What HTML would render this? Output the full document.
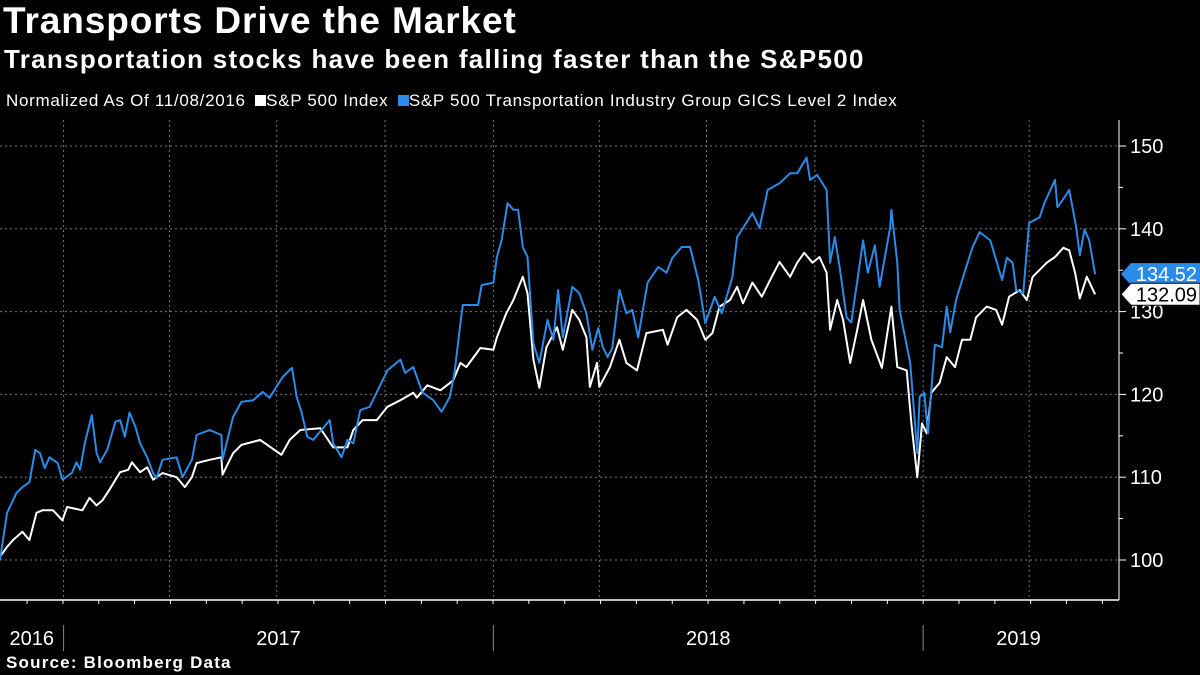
<!DOCTYPE html>
<html><head><meta charset="utf-8">
<style>
html,body{margin:0;padding:0;background:#000;}
body{width:1200px;height:675px;overflow:hidden;position:relative;font-family:"Liberation Sans","DejaVu Sans",sans-serif;color:#fff;}
.t{position:absolute;white-space:nowrap;}
</style></head>
<body>
<div class="t" style="left:3px;top:0px;font-size:37px;font-weight:bold;letter-spacing:0.9px;">Transports Drive the Market</div>
<div class="t" style="left:4px;top:44px;font-size:26px;font-weight:bold;letter-spacing:1.3px;">Transportation stocks have been falling faster than the S&amp;P500</div>
<div class="t" style="left:6px;top:91px;font-size:17px;letter-spacing:0.7px;">
<span>Normalized As Of 11/08/2016</span>
<span style="margin-left:4px;"><span style="display:inline-block;width:11px;height:11px;background:#fff;"></span>S&amp;P 500 Index</span>
<span style="margin-left:4px;"><span style="display:inline-block;width:11px;height:11px;background:#2a8cea;"></span>S&amp;P 500 Transportation Industry Group GICS Level 2 Index</span>
</div>
<svg id="chart" width="1200" height="675" style="position:absolute;left:0;top:0;"></svg>
<div class="t" style="left:6px;top:653px;font-size:17px;font-weight:bold;letter-spacing:1.2px;">Source: Bloomberg Data</div>
<script>
const spDays=[0,6,11,19,25,31,36,45,53,57,70,76,82,87,93,102,109,112,119,125,130,138,150,157,163,167,178,188,189,198,205,221,231,239,246,255,272,283,295,300,308,320,329,340,351,354,363,374,385,391,396,408,419,422,430,436,444,448,453,458,464,473,478,486,492,498,501,507,509,518,526,532,541,549,563,567,575,583,592,599,605,611,620,626,631,639,647,654,662,671,677,683,690,696,702,705,711,716,722,728,733,740,749,757,762,770,774,779,783,787,791,798,804,811,817,824,829,838,846,851,857,866,872,877,889,896,903,908,913,917,923,930];
const spVals=[100.4,101.6,102.4,103.4,102.4,105.7,106.0,106.0,104.8,106.4,106.0,107.5,106.6,107.2,108.5,110.6,110.9,111.8,110.6,111.2,109.7,110.5,110.0,108.8,110.0,111.7,112.1,112.4,110.3,112.9,113.9,114.5,113.5,112.7,114.5,115.7,115.9,113.6,113.6,115.7,116.9,116.9,118.5,119.3,120.2,119.6,121.1,120.5,121.7,123.8,123.3,125.6,125.4,126.9,129.8,131.4,134.2,132.2,124.2,120.8,125.7,128.1,125.4,130.2,129.0,126.9,120.9,123.8,120.9,123.3,126.6,123.8,122.9,127.4,127.8,126.0,129.3,130.2,129.0,126.6,127.4,130.6,131.4,133.0,131.0,133.5,131.8,133.8,136.0,134.2,135.9,137.1,135.9,136.6,134.7,127.8,131.4,129.0,123.8,127.8,131.4,126.6,123.2,130.6,123.3,122.9,116.5,110.0,116.5,115.3,120.2,121.4,124.5,123.3,126.6,126.6,129.3,130.6,130.2,128.4,131.8,132.6,131.4,134.2,135.9,136.6,137.7,137.4,134.7,131.6,134.2,132.09];
const trDays=[0,6,14,19,25,30,34,38,42,49,53,61,65,68,72,78,82,85,91,98,102,106,110,115,119,125,130,133,138,150,155,163,167,178,188,189,198,205,215,223,229,240,248,252,256,261,266,280,283,290,295,300,306,314,329,340,344,351,357,359,368,375,382,386,391,393,406,409,419,422,426,431,436,440,444,448,453,458,465,470,474,478,486,492,498,503,508,512,516,520,526,532,537,542,550,559,566,571,579,586,593,599,607,613,622,626,631,639,645,652,662,671,677,685,688,694,702,705,709,713,719,723,733,737,743,747,756,757,762,764,773,779,781,785,788,794,800,804,807,812,819,826,832,841,851,855,860,863,869,874,883,887,896,898,904,908,914,917,921,925,930];
const trVals=[100.0,105.7,108.1,108.8,109.4,113.3,112.9,111.1,112.4,111.7,109.7,110.5,111.8,110.9,114.1,117.5,112.9,111.8,113.3,116.7,116.9,114.9,117.8,116.1,114.1,112.4,110.5,109.9,112.1,112.4,110.0,112.1,115.1,115.7,115.1,112.1,117.3,119.1,119.3,120.3,119.6,122.1,123.2,119.7,117.9,114.9,114.5,116.9,114.1,112.4,114.5,114.1,118.1,118.5,122.9,124.2,122.6,123.3,120.9,120.2,119.3,117.9,119.7,122.6,128.6,130.8,130.8,133.2,133.5,136.6,138.6,143.1,142.3,142.3,137.8,136.6,126.2,123.8,129.0,126.6,132.6,126.9,133.0,132.2,129.8,125.4,128.0,125.7,124.5,125.6,132.6,129.8,130.2,126.9,133.5,135.4,134.7,136.5,137.8,137.8,133.8,128.6,131.8,129.8,134.2,139.0,140.1,141.9,140.1,144.7,145.5,146.7,146.7,148.6,145.9,146.5,144.7,135.9,139.0,135.4,129.3,128.7,138.6,134.7,138.0,133.0,140.2,142.3,135.9,130.2,123.8,112.9,119.7,120.2,115.3,126.0,125.7,130.6,127.5,131.4,134.7,137.8,139.6,138.6,133.8,136.5,135.9,132.6,132.2,140.7,141.4,143.1,145.9,142.6,143.8,144.7,140.2,136.8,139.9,138.6,134.52];
const yTicks=[100,110,120,130,140,150];
const yearLabels=['2016','2017','2018','2019'];
const yearStartDays=[-54,54,419,784];
const yearEndDays=[54,419,784,946];

const NS='http://www.w3.org/2000/svg';
const svg=document.getElementById('chart');
const X0=0, PXD=1.1775, PLOT_R=1119, AX_Y=600;
function xs(d){return X0+d*PXD;}
function ys(v){return 560-(v-100)*8.28;}
function mk(tag,attrs,parent){const e=document.createElementNS(NS,tag);for(const k in attrs)e.setAttribute(k,attrs[k]);(parent||svg).appendChild(e);return e;}

const qDays=[54,144,235,327,419,509,600,692,784,874];
qDays.forEach(d=>{
  const l=mk('line',{x1:xs(d),x2:xs(d),y1:120,y2:AX_Y,stroke:'#777','stroke-width':1,'stroke-dasharray':'2,3'});
  
  
});
yTicks.forEach(v=>{
  const l=mk('line',{x1:0,x2:PLOT_R,y1:ys(v),y2:ys(v),stroke:'#777','stroke-width':1,'stroke-dasharray':'2,3'});
  
  
  const tk=mk('line',{x1:PLOT_R,x2:PLOT_R+7,y1:ys(v),y2:ys(v),stroke:'#fff','stroke-width':1});
  
  
  const t=mk('text',{x:1130,y:ys(v)+7,fill:'#fff','font-size':20,'font-family':'Liberation Sans, sans-serif'});
  t.textContent=v;
  
  
});
yTicks.slice(0,-1).forEach(v=>{
  const tk=mk('line',{x1:PLOT_R,x2:PLOT_R+4,y1:ys(v+5),y2:ys(v+5),stroke:'#fff','stroke-width':1});
  
  
});
const ya=mk('line',{x1:PLOT_R,x2:PLOT_R,y1:120,y2:AX_Y,stroke:'#fff','stroke-width':1});


const xa=mk('line',{x1:0,x2:PLOT_R,y1:AX_Y,y2:AX_Y,stroke:'#fff','stroke-width':1.5});


for(let d=23;d<940;d+=30.44){
  const tk=mk('line',{x1:xs(d),x2:xs(d),y1:AX_Y,y2:AX_Y+4,stroke:'#fff','stroke-width':1});
  
  
}
yearLabels.forEach((lab,i)=>{
  const a=Math.max(0,xs(yearStartDays[i])), b=Math.min(PLOT_R,xs(yearEndDays[i]));
  const t=mk('text',{x:(a+b)/2,y:645,fill:'#fff','font-size':20,'text-anchor':'middle','font-family':'Liberation Sans, sans-serif'});
  t.textContent=lab;
  
  
  if(i<yearLabels.length-1){
    const l=mk('line',{x1:xs(yearEndDays[i]),x2:xs(yearEndDays[i]),y1:625,y2:651,stroke:'#888','stroke-width':1});
    
    
  }
});
function pathOf(days,vals){return days.map((d,i)=>(i?'L':'M')+xs(d).toFixed(1)+','+ys(vals[i]).toFixed(1)).join(' ');}
const sp=mk('path',{d:pathOf(spDays,spVals),fill:'none',stroke:'#fff','stroke-width':2,'stroke-linejoin':'round'});


const tr=mk('path',{d:pathOf(trDays,trVals),fill:'none',stroke:'#2a8cea','stroke-width':2,'stroke-linejoin':'round'});


function tag(v,bg,fg,name){
  const y=ys(v);
  const g=mk('g',{});
  
  
  mk('polygon',{points:`${PLOT_R+2},${y} ${PLOT_R+12},${y-11} 1200,${y-11} 1200,${y+11} ${PLOT_R+12},${y+11}`,fill:bg,stroke:bg==='#fff'?'#000':'none'},g);
  const t=mk('text',{x:1197,y:y+7,fill:fg,'font-size':20,'text-anchor':'end','font-family':'Liberation Sans, sans-serif'},g);
  t.textContent=v.toFixed(2);
}
tag(trVals[trVals.length-1],'#2a8cea','#fff','transport-last-value-tag');
tag(spVals[spVals.length-1],'#fff','#000','sp500-last-value-tag');
</script>
</body></html>
